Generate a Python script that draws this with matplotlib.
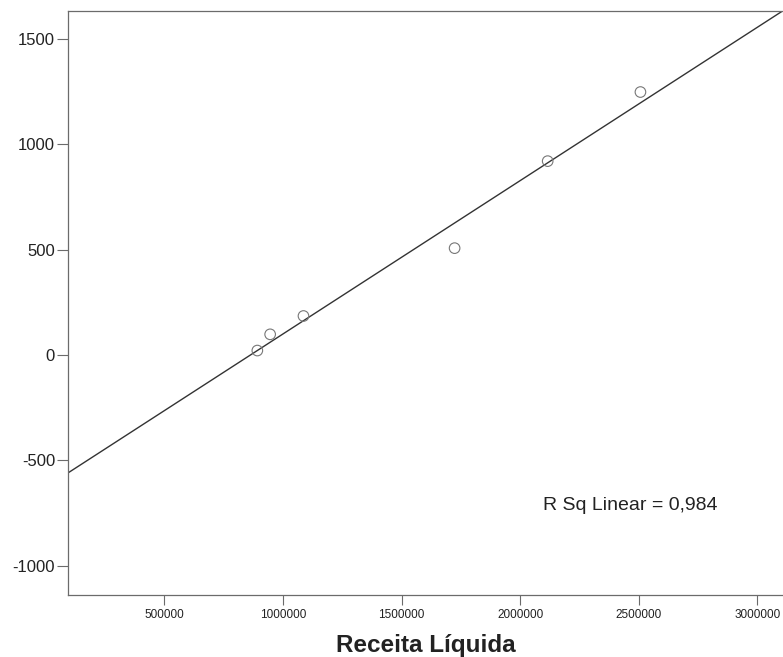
import numpy as np
import matplotlib.pyplot as plt

plt.rcParams['font.family'] = ['Liberation Sans', 'DejaVu Sans']

# valores
receita = np.array([892000, 946000, 1086500, 1723600, 2116000, 2507000])
valores = np.array([21, 98, 185, 507, 920, 1248])
x_ticks = [500000, 1000000, 1500000, 2000000, 2500000, 3000000]
y_ticks = [-1000, -500, 0, 500, 1000, 1500]
texto_r2 = 'R Sq Linear = 0,984'

fig = plt.figure(figsize=(7.83, 6.57), dpi=100)
ax = fig.add_axes([0.0872, 0.0951, 1.0 - 0.0872, 0.9837 - 0.0951])

ax.set_xlim(95000, 3108000)
ax.set_ylim(-1137, 1634)

# reta de regressão linear
coef = np.polyfit(receita, valores, 1)
x_reta = np.array(ax.get_xlim())
ax.plot(x_reta, np.polyval(coef, x_reta), color='#333333', lw=1.0, zorder=2)

ax.scatter(receita, valores, s=58, facecolors='none', edgecolors='#777777',
           linewidths=0.8, zorder=3)

ax.text(2096600, -714, texto_r2, fontsize=14, color='#222222', va='center', ha='left')

ax.set_xticks(x_ticks)
ax.set_xticklabels([str(v) for v in x_ticks])
ax.set_yticks(y_ticks)
ax.set_yticklabels([str(v) for v in y_ticks])
ax.tick_params(axis='x', labelsize=8.5, length=7, width=0.8, color='#6b6b6b',
               labelcolor='#222222', pad=3.5)
ax.tick_params(axis='y', labelsize=12, length=8, width=0.8, color='#6b6b6b',
               labelcolor='#222222', pad=1.5)

for lado in ['left', 'top', 'bottom']:
    ax.spines[lado].set_color('#6b6b6b')
    ax.spines[lado].set_linewidth(0.9)
ax.spines['right'].set_visible(False)

ax.set_xlabel('Receita Líquida', fontsize=17.5, fontweight='bold', color='#222222', labelpad=9)

fig.savefig('out.png', dpi=100)
